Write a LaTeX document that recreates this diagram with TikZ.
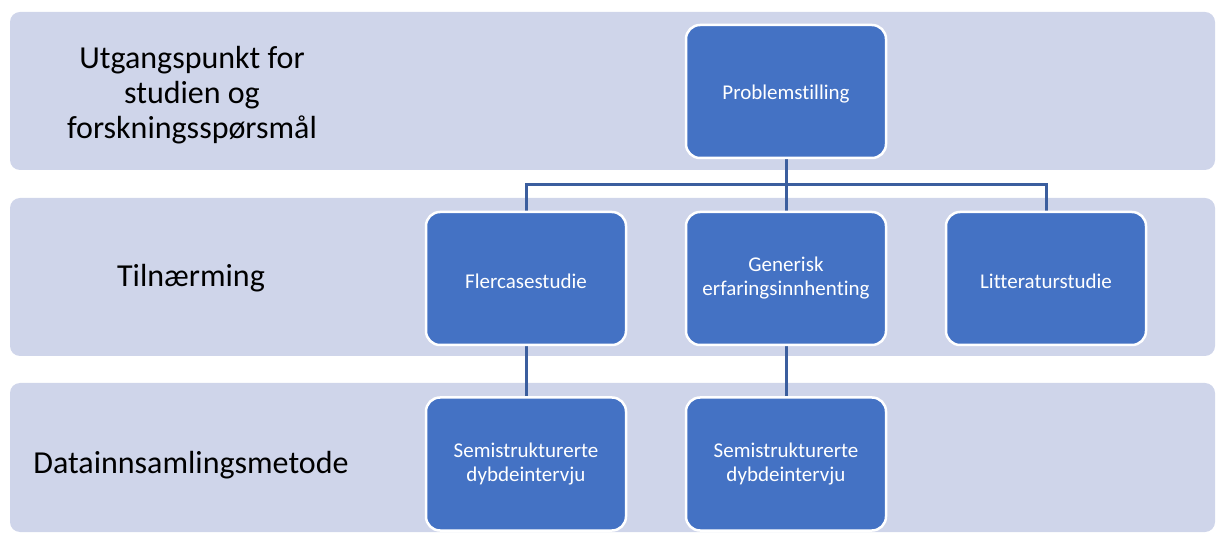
\documentclass[tikz,border=0pt]{standalone}
\usepackage{fontspec}
\setmainfont{Carlito}[RawFeature={-liga;-calt;-clig}]
\definecolor{bandfill}{HTML}{CFD5EA}
\definecolor{boxfill}{HTML}{4472C4}
\definecolor{linkcol}{HTML}{3B5E9E}
\pgfdeclarelayer{bands}
\pgfdeclarelayer{links}
\pgfsetlayers{bands,links,main}
\begin{document}
\begin{tikzpicture}[x=1pt,y=-1pt,
  band/.style={fill=bandfill, rounded corners=10pt, inner sep=0pt,
    minimum width=1205pt},
  rowlabel/.style={align=center, text=black,
    font=\fontsize{32}{35}\selectfont, inner sep=0pt},
  unit/.style={fill=boxfill, draw=white, line width=2.5pt,
    rounded corners=14pt, minimum width=200pt, minimum height=133pt,
    align=center, text=white, inner sep=0pt,
    font=\fontsize{21}{24}\selectfont,
    execute at begin node={\rule{0pt}{20pt}}},
  link/.style={draw=linkcol, line width=3pt}]
\useasboundingbox (0,0) rectangle (1216,534);
\clip (0,0) rectangle (1216,534);

% background bands
\begin{pgfonlayer}{bands}
\node[band, minimum height=158pt] (band1) at (612.5,91) {};
\node[band, minimum height=158pt] (band2) at (612.5,277) {};
\node[band, minimum height=149pt] (band3) at (612.5,457.5) {};
\end{pgfonlayer}

% band labels
\node[rowlabel] (lab1) at (192,95) {Utgangspunkt for\\studien og\\forskningsspørsmål};
\node[rowlabel] (lab2) at (191,278) {Tilnærming};
\node[rowlabel] (lab3) at (191,465) {Datainnsamlingsmetode};

% hierarchy boxes
\node[unit] (prob) at (786,91.5) {Problemstilling};
\node[unit] (fler) at (526,278.5) {Flercasestudie};
\node[unit] (gen)  at (786,278.5) {Generisk\\erfaringsinnhenting};
\node[unit] (lit)  at (1046,278.5) {Litteraturstudie};
\node[unit] (semi1) at (526,464) {Semistrukturerte\\dybdeintervju};
\node[unit] (semi2) at (786,464) {Semistrukturerte\\dybdeintervju};

% connectors, kept under the boxes
\coordinate (bus) at (786,185);
\begin{pgfonlayer}{links}
\draw[link] (prob.south) -- (gen.north);
\draw[link] (bus) -| (fler.north);
\draw[link] (bus) -| (lit.north);
\draw[link] (fler.south) -- (semi1.north);
\draw[link] (gen.south) -- (semi2.north);
\end{pgfonlayer}
\end{tikzpicture}
\end{document}
